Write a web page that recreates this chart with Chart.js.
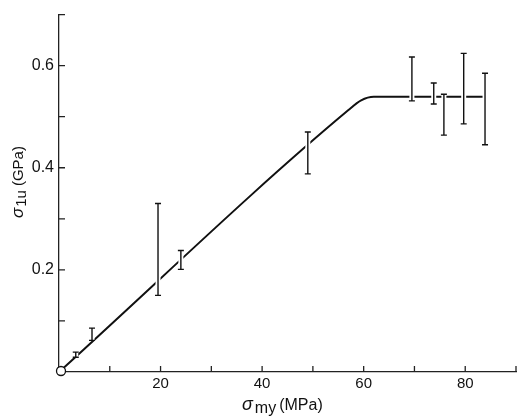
<!DOCTYPE html>
<html>
<head>
<meta charset="utf-8">
<script src="https://cdn.jsdelivr.net/npm/chart.js@4.4.1/dist/chart.umd.min.js"></script>
<style>
  html, body { margin:0; padding:0; background:#fff; }
  #wrap { width:519px; height:419px; }
</style>
</head>
<body>
<div id="wrap"><canvas id="c"></canvas></div>
<script>
// fitted curve
var curveX = [0, 57, 59.5, 62, 84];
var curveY = [0, 0.513, 0.532, 0.539, 0.539];

// measured points with scatter bars
var errX    = [3.3, 6.5, 19.5, 24, 49, 69.5, 73.8, 75.8, 79.7, 83.9];
var errLow  = [0.029, 0.062, 0.150, 0.201, 0.388, 0.531, 0.525, 0.464, 0.486, 0.445];
var errHigh = [0.039, 0.086, 0.330, 0.238, 0.470, 0.617, 0.566, 0.544, 0.624, 0.585];

var originX = [0];
var originY = [0];

var xLabels = [20, 40, 60, 80];
var yLabels = [0.2, 0.4, 0.6];

var fontFam = "'Liberation Sans', Arial, sans-serif";

var errorBars = {
  id: 'errorBars',
  afterDatasetsDraw: function(chart) {
    var ctx = chart.ctx, xs = chart.scales.x, ys = chart.scales.y;
    ctx.save();
    for (var i = 0; i < errX.length; i++) {
      var px = xs.getPixelForValue(errX[i]);
      var pt = ys.getPixelForValue(errHigh[i]);
      var pb = ys.getPixelForValue(errLow[i]);
      // white halo breaks the curve like in the print
      ctx.strokeStyle = '#fff';
      ctx.lineWidth = 5;
      ctx.beginPath(); ctx.moveTo(px, pt); ctx.lineTo(px, pb); ctx.stroke();
      ctx.strokeStyle = '#111';
      ctx.lineWidth = 1.4;
      ctx.beginPath();
      ctx.moveTo(px, pt); ctx.lineTo(px, pb);
      ctx.moveTo(px - 3, pt); ctx.lineTo(px + 3, pt);
      ctx.moveTo(px - 3, pb); ctx.lineTo(px + 3, pb);
      ctx.stroke();
    }
    ctx.restore();
  }
};

var axisDecor = {
  id: 'axisDecor',
  afterDraw: function(chart) {
    var ctx = chart.ctx, xs = chart.scales.x, ys = chart.scales.y;
    var a = chart.chartArea;
    ctx.save();
    ctx.strokeStyle = '#222';
    ctx.lineWidth = 1.3;
    ctx.beginPath();
    xs.ticks.forEach(function(t) {
      if (t.value === 0) return;
      var px = xs.getPixelForValue(t.value);
      ctx.moveTo(px, a.bottom); ctx.lineTo(px, a.bottom - 6);
    });
    ys.ticks.forEach(function(t) {
      if (t.value === 0) return;
      var py = ys.getPixelForValue(t.value);
      ctx.moveTo(a.left, py); ctx.lineTo(a.left + 6, py);
    });
    ctx.stroke();

    // open circle at the origin, drawn over the axes
    var ox = xs.getPixelForValue(originX[0]) + 2, oy = ys.getPixelForValue(originY[0]) - 1;
    ctx.beginPath();
    ctx.arc(ox, oy, 4.5, 0, Math.PI * 2);
    ctx.fillStyle = '#fff';
    ctx.fill();
    ctx.strokeStyle = '#111';
    ctx.lineWidth = 1.3;
    ctx.stroke();

    ctx.fillStyle = '#111';
    ctx.textBaseline = 'alphabetic';
    ctx.textAlign = 'left';
    // x title: sigma_my (MPa)
    var x0 = 242, by = 410;
    ctx.font = 'italic 18px ' + fontFam;
    ctx.fillText('σ', x0, by);
    var w = ctx.measureText('σ').width;
    ctx.font = '16px ' + fontFam;
    ctx.fillText('my', x0 + w + 2, by + 3);
    var w2 = ctx.measureText('my').width;
    ctx.fillText('(MPa)', x0 + w + w2 + 5, by);

    // y title: sigma_1u (GPa), rotated
    ctx.translate(23, 218);
    ctx.rotate(-Math.PI / 2);
    ctx.font = 'italic 17px ' + fontFam;
    ctx.fillText('σ', 0, 0);
    w = ctx.measureText('σ').width;
    ctx.font = '15px ' + fontFam;
    ctx.fillText('1u', w + 1, 3);
    w2 = ctx.measureText('1u').width;
    ctx.fillText('(GPa)', w + w2 + 5, 0);
    ctx.restore();
  }
};

function near(list, v) {
  for (var i = 0; i < list.length; i++) if (Math.abs(list[i] - v) < 1e-6) return list[i];
  return null;
}

new Chart(document.getElementById('c'), {
  type: 'line',
  data: {
    datasets: [
      {
        data: curveX.map(function(x, i) { return {x: x, y: curveY[i]}; }),
        borderColor: '#111',
        borderWidth: 2,
        pointRadius: 0,
        fill: false,
        cubicInterpolationMode: 'monotone'
      }
    ]
  },
  options: {
    responsive: true,
    maintainAspectRatio: false,
    animation: false,
    layout: { padding: { top: 12, right: 1, left: 0, bottom: 0 } },
    plugins: { legend: { display: false }, tooltip: { enabled: false } },
    scales: {
      x: {
        type: 'linear', min: 0, max: 90,
        afterFit: function(s) { s.height = 47; },
        border: { display: true, color: '#222', width: 1.3 },
        grid: { display: false, drawTicks: false },
        ticks: {
          stepSize: 10, padding: 3, color: '#111',
          font: { family: fontFam, size: 15 },
          maxRotation: 0, autoSkip: false,
          callback: function(v) { var l = near(xLabels, v); return l === null ? '' : String(l); }
        }
      },
      y: {
        type: 'linear', min: 0, max: 0.7,
        afterFit: function(s) { s.width = 59; },
        border: { display: true, color: '#222', width: 1.3 },
        grid: { display: false, drawTicks: false },
        ticks: {
          stepSize: 0.1, padding: 5, color: '#111',
          font: { family: fontFam, size: 16 },
          autoSkip: false,
          callback: function(v) { var l = near(yLabels, v); return l === null ? '' : l.toFixed(1); }
        }
      }
    }
  },
  plugins: [errorBars, axisDecor]
});
</script>
</body>
</html>
